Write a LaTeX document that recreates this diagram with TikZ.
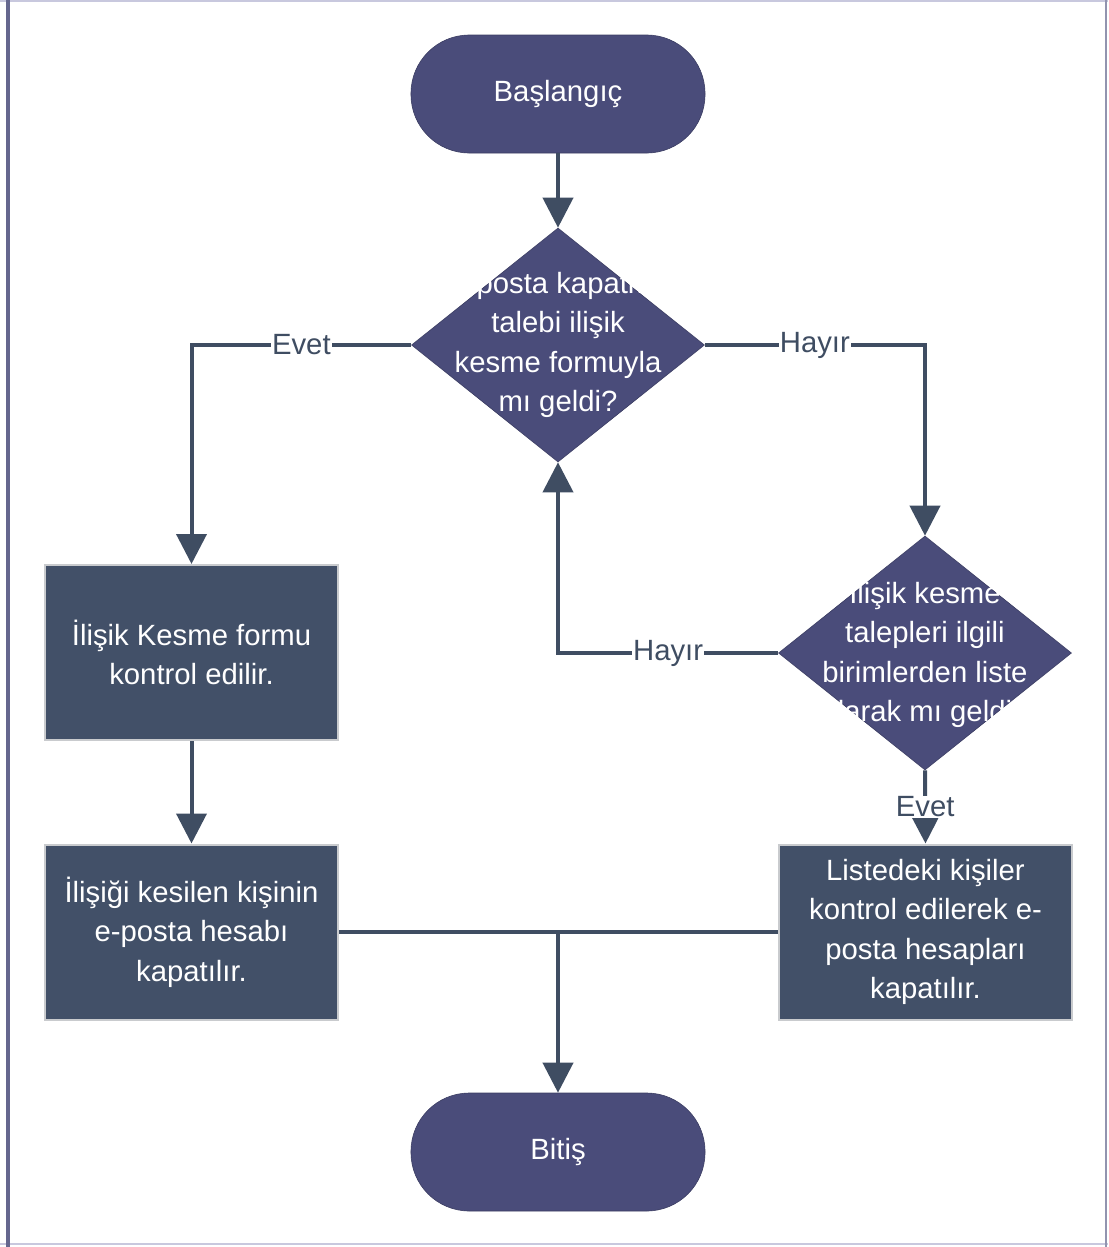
\documentclass[tikz,border=0pt]{standalone}
\usepackage{fontspec}
\setmainfont{Liberation Sans}
\usetikzlibrary{shapes.geometric,arrows.meta}
\definecolor{koyumor}{HTML}{4A4C7A}
\definecolor{kutu}{HTML}{425068}
\definecolor{cizgi}{HTML}{3F4D62}
\definecolor{kenar}{HTML}{C9CBCE}
\definecolor{cerceve}{HTML}{C8C8DE}

\begin{document}
\begin{tikzpicture}
			[x=0.03cm,y=-0.03cm,
			every node/.style={font=\fontsize{25}{33.7}\selectfont,text=white},
			baslabit/.style={rectangle,rounded corners=1.75cm,fill=koyumor,draw=koyumor!80!black,line width=0.5pt,minimum width=8.82cm,minimum height=3.54cm},
			karar/.style={diamond,fill=koyumor,draw=koyumor!80!black,line width=0.5pt,minimum width=8.79cm,minimum height=7.02cm,inner sep=0pt},
			kararyazi/.style={align=center},
			islem/.style={rectangle,fill=kutu,draw=kenar,line width=0.06cm,minimum width=8.79cm,minimum height=5.25cm,align=center},
			ok/.style={draw=cizgi,line width=0.12cm,-{Triangle[width=0.9cm,length=0.9cm]}},
			hat/.style={draw=cizgi,line width=0.12cm},
			etiket/.style={fill=white,text=cizgi,inner sep=1pt}]
				\useasboundingbox (0,0) rectangle (1108,1247);
				% cerceve
				\draw[cerceve,line width=0.06cm] (0,1) -- (1108,1);
				\draw[cerceve,line width=0.06cm] (0,1244) -- (1108,1244);
				\draw[koyumor!85,line width=0.1cm] (8,0) -- (8,1247);
				\draw[koyumor!60,line width=0.05cm] (1106,0) -- (1106,1247);
				\node[baslabit] (bas) at (558,94) {Başlangıç};
				\node[karar] (q1) at (558,345) {};
				\node[kararyazi] (q1y) at (q1) {E-posta kapatma\\talebi ilişik\\kesme formuyla\\mı geldi?};
				\node[karar] (q2) at (925,653) {};
				\node[kararyazi] (q2y) at (q2) {İlişik kesme\\talepleri ilgili\\birimlerden liste\\olarak mı geldi?};
				\node[islem] (k1) at (191.5,652.5) {İlişik Kesme formu\\kontrol edilir.};
				\node[islem] (k2) at (191.5,932) {İlişiği kesilen kişinin\\e-posta hesabı\\kapatılır.};
				\node[islem] (k3) at (925.5,932) {Listedeki kişiler\\kontrol edilerek e-\\posta hesapları\\kapatılır.};
				\node[baslabit] (bit) at (558,1152) {Bitiş};
				\coordinate (j) at (bit.north |- k2.east);
				\foreach \from/\to in {bas/q1,k1/k2,j/bit}
				\draw[ok] (\from) -- (\to);
				\draw[ok] (q1.west) -| node[etiket,pos=0.25] {Evet} (k1.north);
				\draw[ok] (q1.east) -| node[etiket,pos=0.25] {Hayır} (q2.north);
				\draw[ok] (q2.west) -| node[etiket,pos=0.25] {Hayır} (q1.south);
				\draw[ok] (q2.south) -- node[etiket] {Evet} (k3.north);
				\draw[hat] (k2.east) -- (k3.west);
			\end{tikzpicture}
\end{document}
